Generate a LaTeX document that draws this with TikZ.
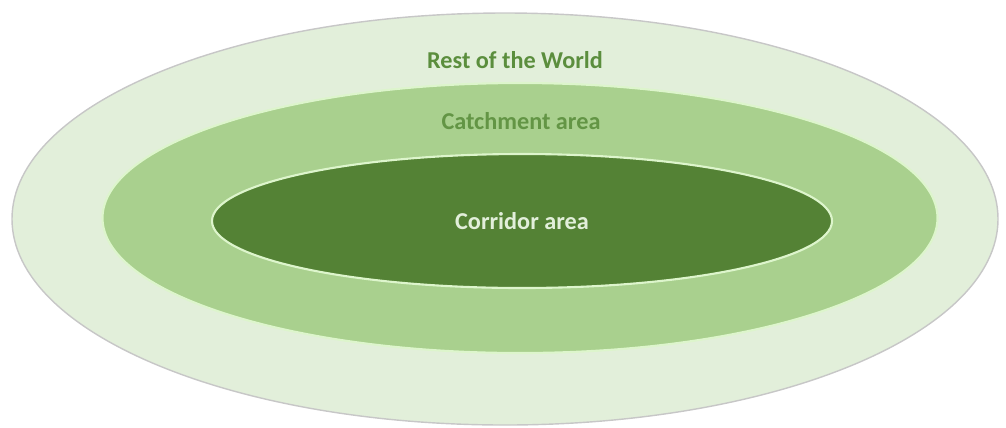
\documentclass[tikz,border=0pt]{standalone}
\usepackage{fontspec}
\setmainfont{Carlito}
\usetikzlibrary{shapes.geometric}
\definecolor{worldfill}{HTML}{E2EFDA}
\definecolor{catchfill}{HTML}{A9D08E}
\definecolor{corrfill}{HTML}{548235}
\definecolor{ringline}{HTML}{DDF5CC}
\definecolor{labelgreen}{HTML}{5B8E3D}
\begin{document}
\begin{tikzpicture}[x=0.02cm, y=-0.02cm, every node/.style={font=\fontsize{13.8}{15}\selectfont\bfseries},
    zone/.style={ellipse, inner sep=0pt}]
        \useasboundingbox (0,0) rectangle (1006,427);
        \node[zone, draw=black!22, line width=0.8pt, fill=worldfill, minimum width=986*0.02cm, minimum height=412*0.02cm] (world) at (505,219) {};
        \node[zone, draw=ringline, line width=1.2pt, fill=catchfill, minimum width=835*0.02cm, minimum height=270*0.02cm] (catchment) at (520,218) {};
        \node[zone, draw=ringline, line width=1.2pt, fill=corrfill, minimum width=620*0.02cm, minimum height=134*0.02cm] (corridor) at (522,221) {};
        \node[labelgreen] (worldlabel) at (515,60) {Rest of the World};
        \node[labelgreen!90!catchfill] (catchlabel) at (521,121) {Catchment area};
        \node[worldfill] (corrlabel) at (corridor) {Corridor area};
    \end{tikzpicture}
\end{document}
